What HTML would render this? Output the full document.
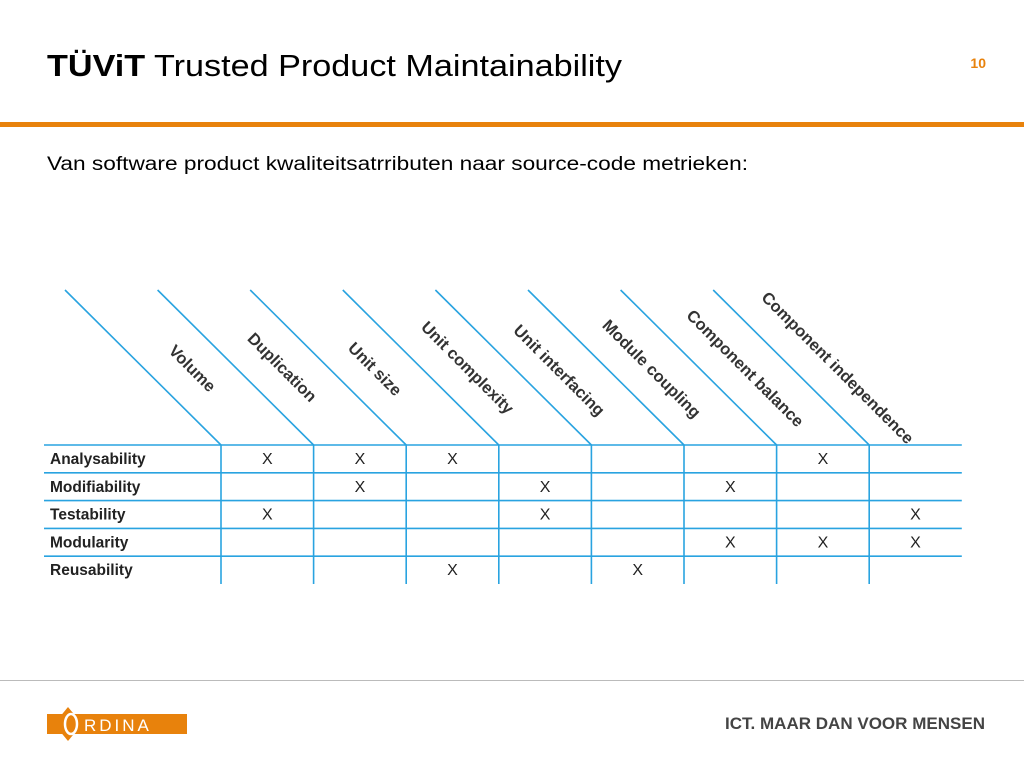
<!DOCTYPE html>
<html><head><meta charset="utf-8"><style>
html,body{margin:0;padding:0;background:#fff;width:1024px;height:768px;overflow:hidden}
svg{display:block;font-family:"Liberation Sans",Arial,sans-serif}
</style></head><body>
<svg id="s" width="1024" height="768" viewBox="0 0 1024 768" xmlns="http://www.w3.org/2000/svg">
<text x="47" y="76" font-size="31" fill="#000" textLength="575" lengthAdjust="spacingAndGlyphs"><tspan font-weight="bold">TÜViT</tspan> Trusted Product Maintainability</text>
<text x="986" y="68" font-size="14" font-weight="bold" fill="#e8820c" text-anchor="end">10</text>
<rect x="0" y="122" width="1024" height="5" fill="#e8820c"/>
<text x="47" y="170" font-size="19" fill="#000" textLength="701" lengthAdjust="spacingAndGlyphs">Van software product kwaliteitsatrributen naar source-code metrieken:</text>
<g id="table"></g>
<rect x="0" y="680" width="1024" height="1" fill="#bbb"/>
<g>
<rect x="47" y="714" width="140" height="20" fill="#e8820c"/>
<polygon points="68,707 82,724 68,741 54,724" fill="#e8820c"/>
<ellipse cx="71" cy="724" rx="6" ry="10" fill="none" stroke="#fff" stroke-width="2.5"/>
<text x="84" y="731" font-size="17" fill="#fff" letter-spacing="3">RDINA</text>
</g>
<text x="985" y="729" font-size="17" font-weight="bold" fill="#444" text-anchor="end" textLength="260" lengthAdjust="spacingAndGlyphs">ICT. MAAR DAN VOOR MENSEN</text>
</svg>
<script>
const metrics=["Volume","Duplication","Unit size","Unit complexity","Unit interfacing","Module coupling","Component balance","Component independence"];
const attributes=["Analysability","Modifiability","Testability","Modularity","Reusability"];
const marks=[[1,1,1,0,0,0,1,0],[0,1,0,1,0,1,0,0],[1,0,0,1,0,0,0,1],[0,0,0,0,0,1,1,1],[0,0,1,0,1,0,0,0]];
const labelEnds=[[212,388],[313,398],[398,392],[510,410],[601,412],[697,414],[800,423],[910,440]];
const NS="http://www.w3.org/2000/svg",g=document.getElementById('table');
const top0=445,rowH=27.8,left=44,c0=221,colW=92.6,blue="#29a3e0";
const colX=i=>c0+i*colW,rowY=j=>top0+j*rowH;
function mk(t,a){const e=document.createElementNS(NS,t);for(const k in a)e.setAttribute(k,a[k]);g.appendChild(e);return e;}
const right=colX(metrics.length),bottom=rowY(attributes.length);
for(let j=0;j<attributes.length;j++){
 const l=mk('line',{x1:left,y1:rowY(j),x2:right,y2:rowY(j),stroke:blue,'stroke-width':1.6});
 
 
 const t=mk('text',{x:50,y:rowY(j)+19,'font-size':15.5,'font-weight':'bold',fill:'#222'});
 t.textContent=attributes[j];
 
 
}
for(let i=0;i<metrics.length;i++){
 const x=colX(i);
 const v=mk('line',{x1:x,y1:top0,x2:x,y2:bottom,stroke:blue,'stroke-width':1.6});
 
 
 const d=mk('line',{x1:x-156,y1:290,x2:x,y2:top0,stroke:blue,'stroke-width':1.6});
 
 
 const [ex,ey]=labelEnds[i];
 const t=mk('text',{x:ex-3,y:ey+5,'font-size':16.5,'font-weight':'bold',fill:'#333','text-anchor':'end',transform:`rotate(45 ${ex-3} ${ey+5})`});
 t.textContent=metrics[i];
 
 
}
for(let j=0;j<attributes.length;j++)for(let i=0;i<metrics.length;i++)if(marks[j][i]){
 const t=mk('text',{x:colX(i)+colW/2,y:rowY(j)+19,'font-size':16,fill:'#222','text-anchor':'middle'});
 t.textContent='X';
 
 
}
</script>
</body></html>
